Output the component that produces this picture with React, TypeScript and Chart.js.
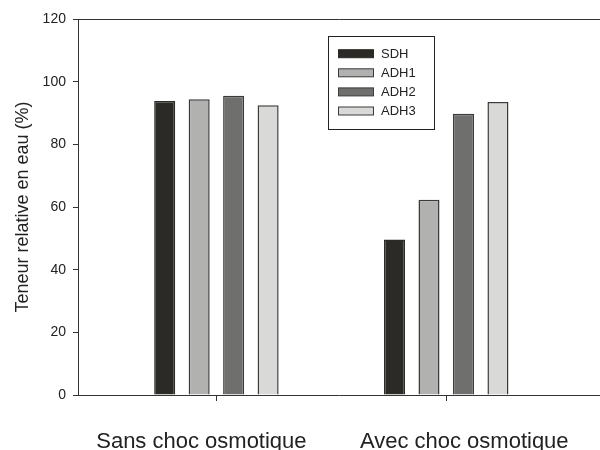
import React, { useEffect, useRef } from "react";
import { Chart, registerables } from "chart.js";

Chart.register(...registerables);

const categories = ["Sans choc osmotique", "Avec choc osmotique"];
const seriesNames = ["SDH", "ADH1", "ADH2", "ADH3"];
const sdhValues = [93.8, 49.6];
const adh1Values = [94.4, 62.3];
const adh2Values = [95.5, 89.8];
const adh3Values = [92.5, 93.5];
const yTickStep = 20;
const yMin = 0;
const yMax = 120;

const FONT = 'Arial, "Liberation Sans", sans-serif';
const fills = ["#2b2a27", "#b1b2b0", "#6f6f6d", "#d9dad8"];
const borders = ["#2b2a27", "#3a3a3a", "#3a3a3a", "#3a3a3a"];

const legendPlugin = {
  id: "boxLegend",
  afterDraw(chart: any) {
    const ctx = chart.ctx;
    ctx.save();
    const bx = 328.5, by = 36.5, bw = 106, bh = 93;
    ctx.strokeStyle = "#222";
    ctx.lineWidth = 1;
    ctx.strokeRect(bx, by, bw, bh);
    ctx.font = `13px ${FONT}`;
    ctx.textBaseline = "middle";
    ctx.fillStyle = "#222";
    chart.data.datasets.forEach((ds: any, i: number) => {
      const cy = 53.7 + i * 19.1;
      ctx.fillStyle = ds.backgroundColor;
      ctx.fillRect(338.5, cy - 4, 35, 8);
      ctx.strokeStyle = ds.borderColor;
      ctx.lineWidth = 1;
      ctx.strokeRect(338.5, cy - 4, 35, 8);
      ctx.fillStyle = "#222";
      ctx.fillText(ds.label, 381, cy + 0.5);
    });
    ctx.restore();
  },
};

const xLabelOffsets = [-15, 18];
const xLabelPlugin = {
  id: "xLabels",
  afterDraw(chart: any) {
    const ctx = chart.ctx;
    const xs = chart.scales.x;
    ctx.save();
    ctx.font = `22px ${FONT}`;
    ctx.fillStyle = "#222";
    ctx.textAlign = "center";
    ctx.textBaseline = "alphabetic";
    categories.forEach((c, i) => {
      ctx.fillText(c, xs.getPixelForValue(i) + xLabelOffsets[i], 448);
    });
    ctx.restore();
  },
};

export default function App() {
  const ref = useRef<HTMLCanvasElement>(null);
  useEffect(() => {
    if (!ref.current) return;
    const seriesValues = [sdhValues, adh1Values, adh2Values, adh3Values];
    const chart = new Chart(ref.current, {
      type: "bar",
      data: {
        datasets: seriesNames.map((name, s) => ({
          label: name,
          data: seriesValues[s].map((v, i) => ({ x: i, y: v })),
          backgroundColor: fills[s],
          borderColor: borders[s],
          borderWidth: 1.5,
          categoryPercentage: 0.6,
          barPercentage: 0.61,
        })),
      },
      options: {
        animation: false,
        responsive: false,
        devicePixelRatio: 1,
        layout: { padding: { left: 6, right: 0, top: 19, bottom: 49 } },
        plugins: { legend: { display: false }, tooltip: { enabled: false } },
        scales: {
          x: {
            type: "linear",
            offset: false,
            min: -0.598,
            max: 1.669,
            afterBuildTicks: (axis: any) => {
              axis.ticks = categories.map((_, i) => ({ value: i }));
            },
            ticks: { display: false },
            grid: {
              display: true,
              offset: false,
              drawOnChartArea: false,
              drawTicks: true,
              tickLength: 6,
              color: "#333",
            },
            border: { display: true, color: "#333", width: 1 },
          },
          xTop: {
            type: "linear",
            position: "top",
            offset: false,
            ticks: { display: false },
            grid: { display: false, drawTicks: false },
            border: { display: true, color: "#333", width: 1 },
          },
          y: {
            min: yMin,
            max: yMax,
            ticks: {
              stepSize: yTickStep,
              padding: 7,
              color: "#222",
              font: { family: FONT, size: 14 },
            },
            grid: {
              display: true,
              drawOnChartArea: false,
              drawTicks: true,
              tickLength: 6,
              color: "#333",
            },
            border: { display: true, color: "#333", width: 1 },
            title: {
              display: true,
              text: "Teneur relative en eau (%)",
              color: "#222",
              font: { family: FONT, size: 18 },
              padding: { top: 6, bottom: 2 },
            },
          },
        },
      },
      plugins: [legendPlugin, xLabelPlugin],
    } as any);
    return () => chart.destroy();
  }, []);
  return (
    <div style={{ position: "fixed", left: 0, top: 0, width: 600, height: 450, background: "#fff" }}>
      <canvas ref={ref} width={600} height={450} />
    </div>
  );
}
